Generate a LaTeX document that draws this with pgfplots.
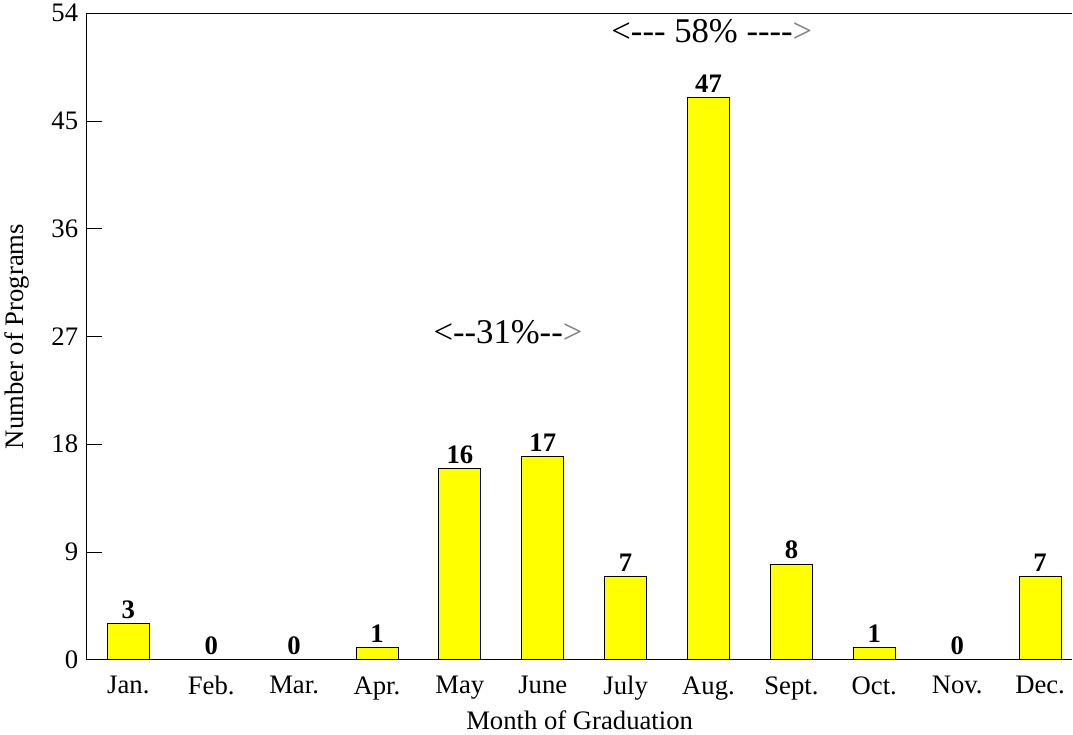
\documentclass[border=0pt]{standalone}
\usepackage{pgfplots}
\pgfplotsset{compat=1.18}
\usepackage{fontspec}
\setmainfont{Liberation Serif}
\newcommand{\labfont}{\fontsize{20}{24}\selectfont}
\definecolor{baryellow}{RGB}{255,255,0}
\begin{document}
\begin{tikzpicture}
\begin{axis}[
    scale only axis,
    width=738.75pt, height=484.5pt,
    xmin=-0.5, xmax=11.39,
    ymin=0, ymax=54,
    axis x line*=bottom, axis y line*=left,
    axis line style={black, line width=0.9pt},
    ytick={0,9,18,27,36,45,54},
    yticklabel style={font=\labfont, xshift=-3pt},
    /pgf/number format/assume math mode=true,
    tick align=inside,
    major tick length=11pt,
    tick style={black, line width=0.6pt},
    xtick={0,...,11},
    xticklabels={Jan.,Feb.,Mar.,Apr.,May,June,July,Aug.,Sept.,Oct.,Nov.,Dec.},
    x tick style={draw=none},
    xticklabel style={font=\labfont, yshift=-9pt},
    extra x ticks={0.5,1.5,...,10.5},
    extra x tick labels={},
    extra x tick style={tick align=outside, major tick length=3pt, tick style={draw=black, line width=0.5pt}},
    xlabel={Month of Graduation},
    xlabel style={font=\labfont, yshift=2pt},
    ylabel={Number of Programs},
    ylabel style={font=\labfont, yshift=10pt},
    clip=false,
]
\addplot[ybar, bar width=31.5pt, fill=baryellow, draw=black, line width=0.6pt,
    nodes near coords,
    every node near coord/.append style={font=\bfseries\labfont, black}]
    coordinates {
    (0,3) (1,0) (2,0) (3,1) (4,16) (5,17)
    (6,7) (7,47) (8,8) (9,1) (10,0) (11,7)
    };
\draw[black, line width=0.9pt] (rel axis cs:0,1) -- (rel axis cs:1,1);
\node[font=\fontsize{26}{30}\selectfont] at (axis cs:7.04,52.5)
    {<-{}-{}- 58\% -{}-{}-{}-\textcolor{gray}{>}};
\node[font=\fontsize{26}{30}\selectfont] at (axis cs:4.58,27.4)
    {<-{}-31\%-{}-\textcolor{gray}{>}};
\end{axis}
\end{tikzpicture}
\end{document}
